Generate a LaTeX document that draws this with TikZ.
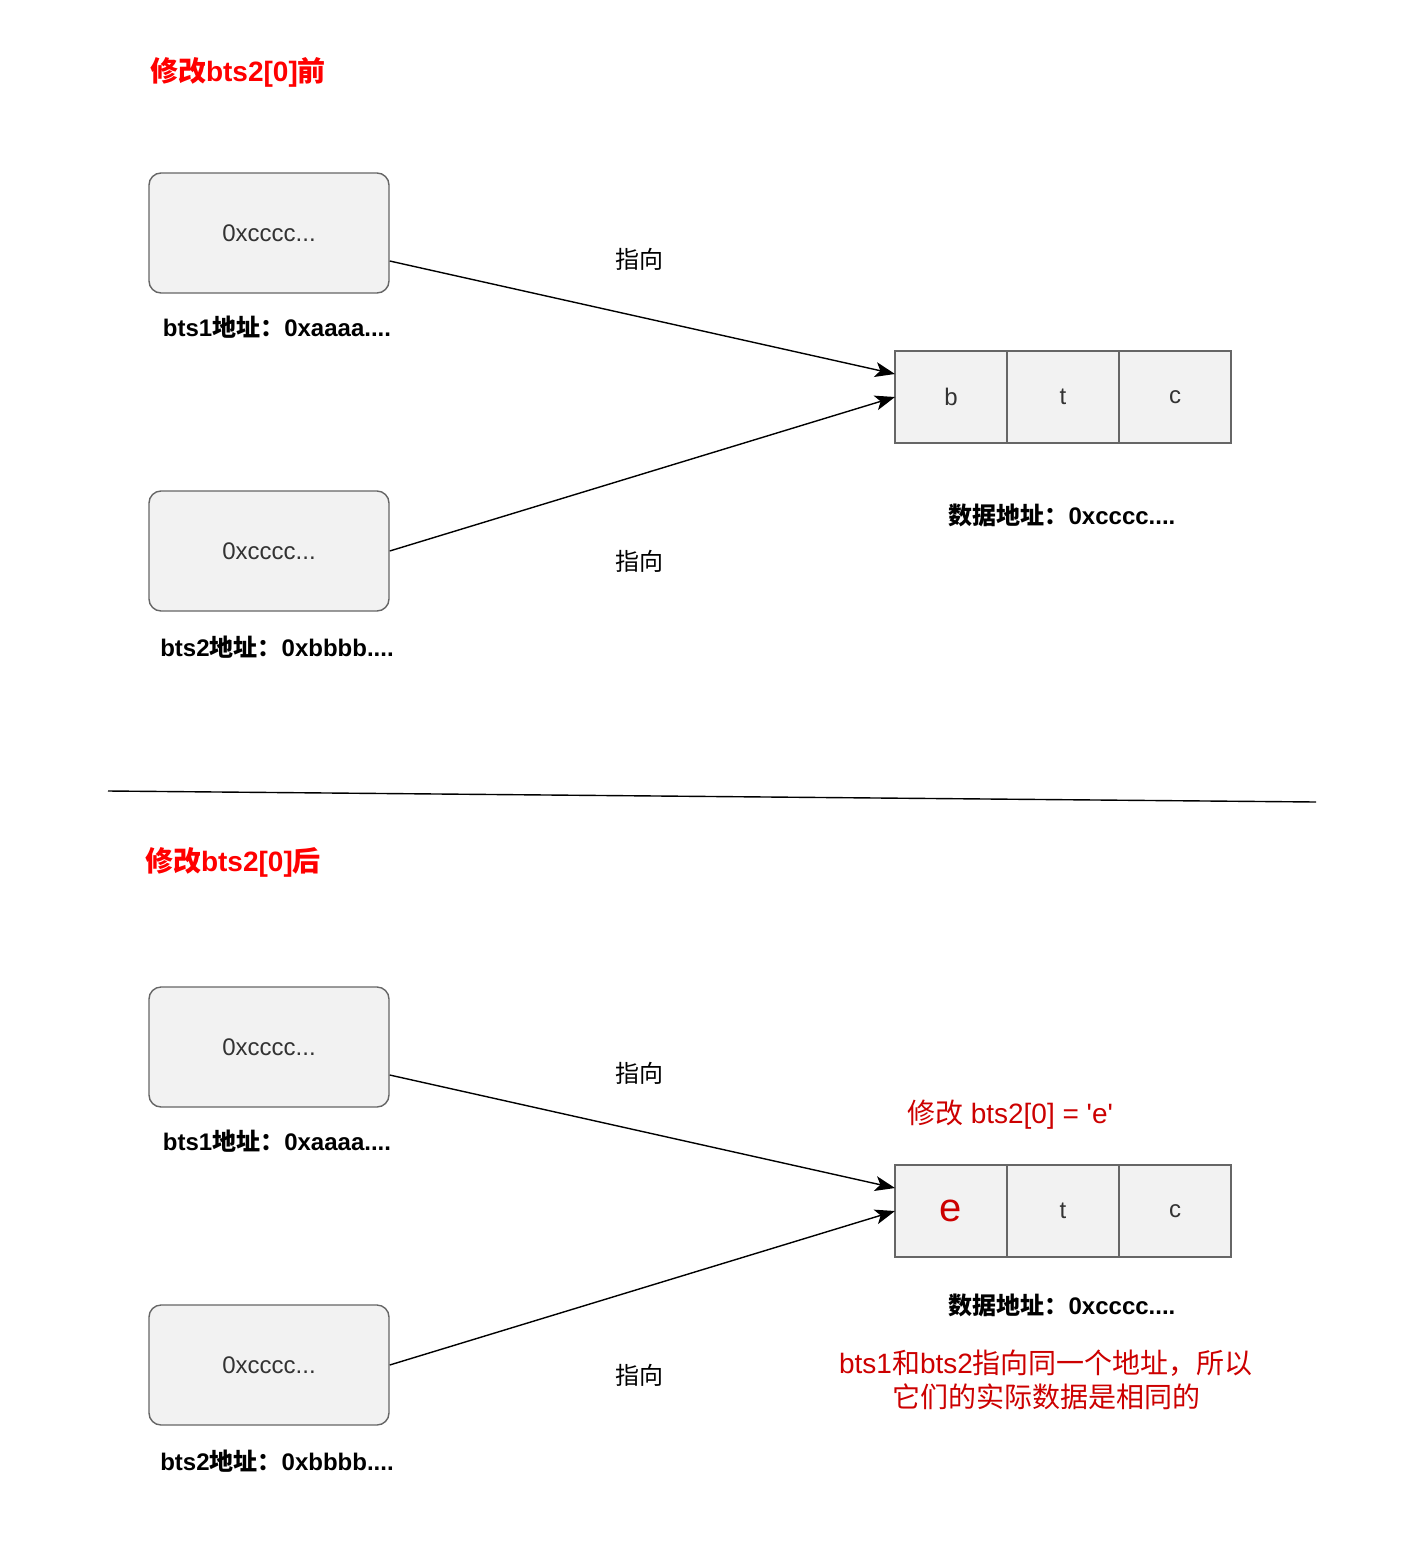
\documentclass[tikz,border=0pt]{standalone}
\usepackage{fontspec}
\setmainfont{Liberation Sans}
\newfontfamily\cjk{Noto Sans CJK SC}
\newcommand{\zh}[1]{{\cjk #1}}
\usepackage{tikz}
\usetikzlibrary{arrows.meta, positioning}
\definecolor{mydark}{RGB}{51,51,51}
\definecolor{mygrey}{RGB}{102,102,102}
\definecolor{myfill}{RGB}{242,242,242}
\definecolor{myred}{RGB}{255,0,0}
\definecolor{mydeepred}{RGB}{204,0,0}
\tikzset{
  ptrbox/.style={rectangle, draw=mygrey, fill=myfill, rounded corners=6pt,
    minimum width=120pt, minimum height=60pt, line width=0.7pt,
    text=mydark, font=\fontsize{12}{14}\selectfont},
  cell/.style={rectangle, draw=mygrey, fill=myfill, outer sep=0pt,
    minimum width=56pt, minimum height=46pt, line width=0.8pt,
    text=mydark, font=\fontsize{12}{14}\selectfont},
  addr/.style={font=\bfseries\fontsize{12}{14}\selectfont, text=black},
  title/.style={font=\bfseries\fontsize{14}{17}\selectfont, text=myred, anchor=west},
  note/.style={font=\fontsize{14}{17}\selectfont, text=mydeepred, align=center},
  lbl/.style={font=\fontsize{12}{14}\selectfont, text=black},
  arrow/.style={-{Stealth[length=10pt, width=7.5pt, inset=2.5pt]}, line width=0.7pt, color=black}
}
\begin{document}
\begin{tikzpicture}[x=0.5pt, y=-0.5pt]
  \useasboundingbox (0,0) rectangle (1406,1558);

  % Before
  \node[title] (T1) at (143,72) {\zh{修改}bts2[0]\zh{前}};
  \node[ptrbox] (A1) at (269,233) {0xcccc...};
  \node[addr] (LA1) at (277,327) {bts1\zh{地址：}0xaaaa....};
  \node[ptrbox] (B1) at (269,551) {0xcccc...};
  \node[addr] (LB1) at (277,647) {bts2\zh{地址：}0xbbbb....};
  \node[cell] (D1) at (951,397) {b};
  \node[cell, right=0pt of D1] (E1) {t};
  \node[cell, right=0pt of E1] (F1) {c};
  \node[addr] (LD1) at (1062,515) {\zh{数据地址：}0xcccc....};
  \draw[arrow] ([yshift=-14pt]A1.east) -- ([yshift=11.5pt]D1.west);
  \draw[arrow] (B1.east) -- (D1.west);
  \node[lbl] (P1) at (639,259) {\zh{指向}};
  \node[lbl] (Q1) at (639,561) {\zh{指向}};

  % Separator
  \coordinate (S0) at (108,791);
  \coordinate (S1) at (1316,802);
  \draw[line width=0.7pt] (S0) -- (S1);

  % After
  \node[title] (T2) at (138,862) {\zh{修改}bts2[0]\zh{后}};
  \node[ptrbox] (A2) at (269,1047) {0xcccc...};
  \node[addr] (LA2) at (277,1141) {bts1\zh{地址：}0xaaaa....};
  \node[ptrbox] (B2) at (269,1365) {0xcccc...};
  \node[addr] (LB2) at (277,1461) {bts2\zh{地址：}0xbbbb....};
  \node[cell, text=mydeepred, font=\fontsize{20}{24}\selectfont] (D2) at (951,1211) {e};
  \node[cell, right=0pt of D2] (E2) {t};
  \node[cell, right=0pt of E2] (F2) {c};
  \node[addr] (LD2) at (1062,1305) {\zh{数据地址：}0xcccc....};
  \draw[arrow] ([yshift=-14pt]A2.east) -- ([yshift=11.5pt]D2.west);
  \draw[arrow] (B2.east) -- (D2.west);
  \node[lbl] (P2) at (639,1073) {\zh{指向}};
  \node[lbl] (Q2) at (639,1375) {\zh{指向}};
  \node[note] (M2) at (1010,1115) {\zh{修改} bts2[0] = \textquotesingle e\textquotesingle};
  \node[note] (N2) at (1046,1380) {bts1\zh{和}bts2\zh{指向同一个地址，所以}\\\zh{它们的实际数据是相同的}};
\end{tikzpicture}
\end{document}
